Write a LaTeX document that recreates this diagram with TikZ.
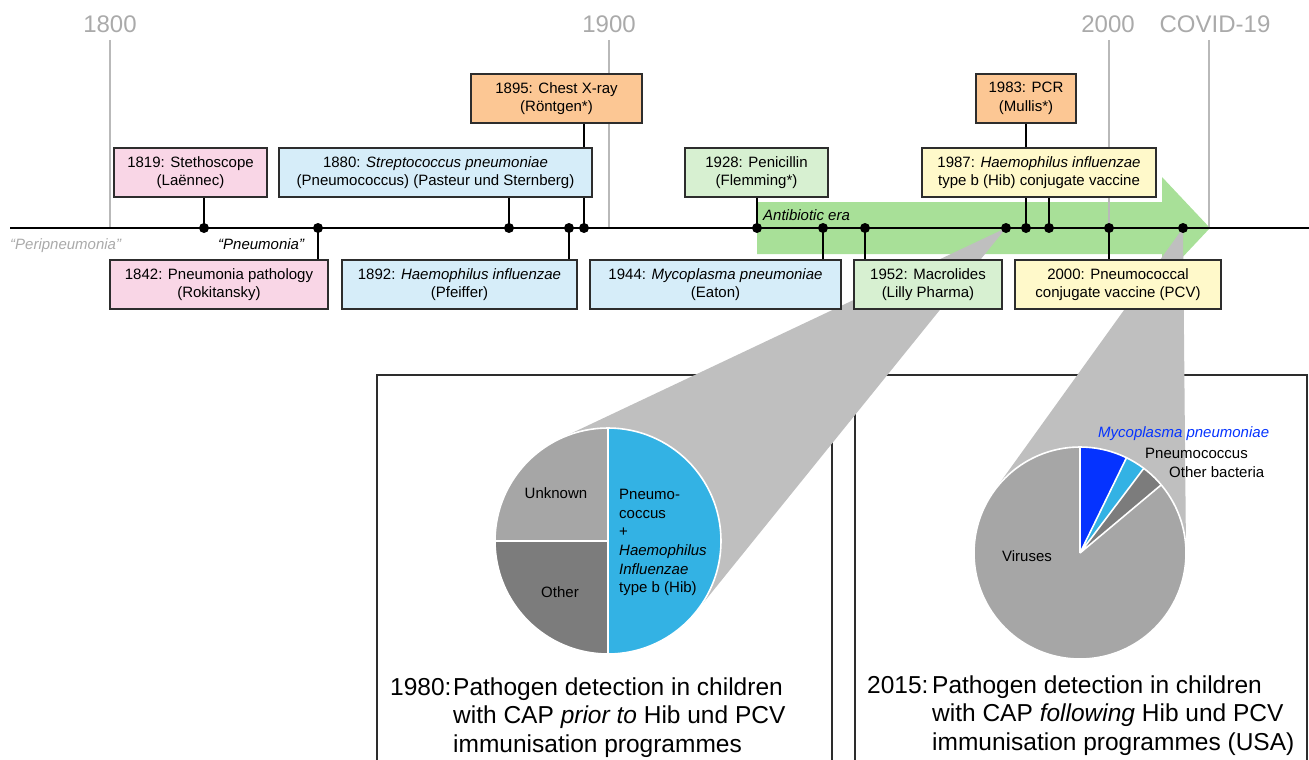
\documentclass[tikz,border=0pt]{standalone}
\usepackage{fontspec}
\setmainfont{Liberation Sans}
\usetikzlibrary{calc}
\pgfdeclarelayer{back}
\pgfdeclarelayer{mid}
\pgfsetlayers{back,mid,main}
\definecolor{bordercol}{RGB}{45,45,45}
\definecolor{pinkc}{RGB}{249,214,230}
\definecolor{bluec}{RGB}{214,237,249}
\definecolor{orangec}{RGB}{252,199,148}
\definecolor{greenc}{RGB}{215,240,209}
\definecolor{yellowc}{RGB}{255,249,202}
\definecolor{arrowgreen}{RGB}{168,224,152}
\definecolor{conegray}{RGB}{191,191,191}
\definecolor{unkc}{RGB}{166,166,166}
\definecolor{othc}{RGB}{124,124,124}
\definecolor{cyanc}{RGB}{51,178,228}
\definecolor{mycoc}{RGB}{5,51,255}
\definecolor{yeargray}{RGB}{170,170,170}
\definecolor{ylinec}{RGB}{185,185,185}
\begin{document}
\begin{tikzpicture}[x=1pt,y=-1pt,
  evbox/.style={draw=bordercol, line width=1.2pt, minimum height=49pt, inner sep=0pt,
    align=center, font=\fontsize{15}{18.5}\selectfont},
  pinkbox/.style={evbox, fill=pinkc},
  bluebox/.style={evbox, fill=bluec},
  orangebox/.style={evbox, fill=orangec},
  greenbox/.style={evbox, fill=greenc},
  yellowbox/.style={evbox, fill=yellowc},
  conn/.style={draw=black, line width=1.3pt},
  tdot/.style={circle, fill=black, inner sep=0pt, minimum size=10pt},
  yearlab/.style={text=yeargray, inner sep=0pt, anchor=base, font=\fontsize{24}{28}\selectfont},
  yline/.style={draw=ylinec, line width=1.2pt},
  smalltxt/.style={inner sep=0pt, font=\fontsize{15}{18.6}\selectfont},
  captext/.style={inner sep=0pt, anchor=base west, font=\fontsize{24.5}{28}\selectfont},
  framec/.style={draw=bordercol, line width=1.3pt},
  sepline/.style={draw=white, line width=1.6pt}
]
\useasboundingbox (0,0) rectangle (1309,760);

% ---------- timeline ----------
\coordinate (tlL) at (10,228);
\coordinate (tlR) at (1309,228);
\draw[line width=1.3pt, black] (tlL) -- (tlR);

% year labels and lines
\node[yearlab] (y1800) at (110,33) {1800};
\node[yearlab] (y1900) at (609,33) {1900};
\node[yearlab] (y2000) at (1108,33) {2000};
\node[yearlab] (ycov) at (1215,33) {COVID-19};
\coordinate (l1800) at (110,40);
\coordinate (l1900) at (609,40);
\coordinate (l2000) at (1109,40);
\coordinate (lcov) at (1209,40);

% dots
\node[tdot] (n1819) at (204,228) {};
\node[tdot] (n1842) at (318,228) {};
\node[tdot] (n1880) at (509,228) {};
\node[tdot] (n1892) at (569,228) {};
\node[tdot] (n1895) at (584,228) {};
\node[tdot] (n1928) at (757,228) {};
\node[tdot] (n1944) at (823,228) {};
\node[tdot] (n1952) at (865,228) {};
\node[tdot] (n1980) at (1006,228) {};
\node[tdot] (n1983) at (1026,228) {};
\node[tdot] (n1987) at (1049,228) {};
\node[tdot] (n2000) at (1109,228) {};
\node[tdot] (n2015) at (1183,228) {};

% boxes
\node[pinkbox, minimum width=153pt] (b1819) at (190.5,172.5) {1819: Stethoscope\\(Laënnec)};
\node[pinkbox, minimum width=218pt] (b1842) at (219,284.5) {1842: Pneumonia pathology\\(Rokitansky)};
\node[bluebox, minimum width=313pt] (b1880) at (435.5,172.5) {1880: \textit{Streptococcus pneumoniae}\\(Pneumococcus) (Pasteur und Sternberg)};
\node[bluebox, minimum width=235pt] (b1892) at (459.5,284.5) {1892: \textit{Haemophilus influenzae}\\(Pfeiffer)};
\node[orangebox, minimum width=171pt] (b1895) at (556.5,98.5) {1895: Chest X-ray\\(Röntgen*)};
\node[greenbox, minimum width=143pt] (b1928) at (756.5,172.5) {1928: Penicillin\\(Flemming*)};
\node[bluebox, minimum width=251pt] (b1944) at (715.5,284.5) {1944: \textit{Mycoplasma pneumoniae}\\(Eaton)};
\node[greenbox, minimum width=148pt] (b1952) at (928,284.5) {1952: Macrolides\\(Lilly Pharma)};
\node[orangebox, minimum width=100pt] (b1983) at (1026,98.5) {1983: PCR\\(Mullis*)};
\node[yellowbox, minimum width=234pt] (b1987) at (1039,172.5) {1987: \textit{Haemophilus influenzae}\\type b (Hib) conjugate vaccine};
\node[yellowbox, minimum width=206pt] (b2000) at (1118,284.5) {2000: Pneumococcal\\conjugate vaccine (PCV)};

% timeline texts
\node[smalltxt, anchor=base west, text=yeargray] (peri) at (10,249) {\textit{“Peripneumonia”}};
\node[smalltxt, anchor=base west] (pneu) at (218,249) {\textit{“Pneumonia”}};
\node[smalltxt, anchor=base west] (abera) at (763,220) {\textit{Antibiotic era}};

% pie labels
\node[smalltxt] (lunk) at (556,493) {Unknown};
\node[smalltxt] (loth) at (560,592) {Other};
\node[smalltxt, anchor=west, align=left] (lpn) at (619,542.5) {Pneumo-\\coccus\\+\\\textit{Haemophilus}\\\textit{Influenzae}\\type b (Hib)};
\node[smalltxt, anchor=base west, text=mycoc] (lmyco) at (1098,437.5) {\textit{Mycoplasma pneumoniae}};
\node[smalltxt, anchor=base west] (lpc) at (1145,458.5) {Pneumococcus};
\node[smalltxt, anchor=base west] (lob) at (1169,477.5) {Other bacteria};
\node[smalltxt, anchor=base] (lvir) at (1027,561.5) {Viruses};

% captions
\node[captext] (c1980) at (390,695) {1980:};
\node[captext] (c1980a) at (453,695) {Pathogen detection in children};
\node[captext] (c1980b) at (453,723.5) {with CAP \textit{prior to} Hib und PCV};
\node[captext] (c1980c) at (453,752) {immunisation programmes};
\node[captext] (c2015) at (867,693) {2015:};
\node[captext] (c2015a) at (932,693) {Pathogen detection in children};
\node[captext] (c2015b) at (932,721.5) {with CAP \textit{following} Hib und PCV};
\node[captext] (c2015c) at (932,750) {immunisation programmes (USA)};

% ---------- middle layer: year lines and connectors ----------
\begin{pgfonlayer}{mid}
  \draw[yline] (l1800) -- (l1800 |- tlL);
  \draw[yline] (l1900) -- (l1900 |- tlL);
  \draw[yline] (l2000) -- (l2000 |- tlL);
  \draw[yline] (lcov) -- (lcov |- tlL);
  \foreach \n in {1819,1842,1880,1892,1895,1928,1944,1952,1983,1987,2000}{
    \draw[conn] (n\n.center) -- (n\n.center |- b\n.center);
  }
\end{pgfonlayer}

% ---------- back layer: frames, arrow, cones, pies ----------
\begin{pgfonlayer}{back}
  \draw[framec] (377,765) -- (377,375) -- (832,375) -- (832,765);
  \draw[framec] (855,765) -- (855,375) -- (1307,375) -- (1307,765);
  \fill[arrowgreen] (757,202) -- (1162,202) -- (1162,177) -- (1210,228)
    -- (1162,279) -- (1162,254) -- (757,254) -- cycle;
  % cones
  \coordinate (t1a) at (695.9,612.0);
  \coordinate (t1b) at (559.7,438.8);
  \coordinate (t2a) at (1186,552);
  \coordinate (t2b) at (993.9,491.1);
  \fill[conegray] (n1980.center) -- (t1a) -- (t1b) -- cycle;
  \fill[conegray] (n2015.center) -- (t2a) -- (t2b) -- cycle;
  % pie 1980
  \begin{scope}[shift={(608,541)}]
  \begin{scope}[y=1pt]
    \fill[cyanc] (0,0) -- (-90:113) arc[start angle=-90, end angle=90, radius=113] -- cycle;
    \fill[unkc] (0,0) -- (90:113) arc[start angle=90, end angle=180, radius=113] -- cycle;
    \fill[othc] (0,0) -- (180:113) arc[start angle=180, end angle=270, radius=113] -- cycle;
    \draw[sepline] (0,113) -- (0,-113) (0,0) -- (-113,0);
    \draw[sepline] (0,0) circle[radius=113];
  \end{scope}
  \end{scope}
  % pie 2015
  \begin{scope}[shift={(1080,553)}]
  \begin{scope}[y=1pt]
    \fill[unkc] (0,0) -- (90:106) arc[start angle=90, end angle=400, radius=106] -- cycle;
    \fill[mycoc] (0,0) -- (64:106) arc[start angle=64, end angle=90, radius=106] -- cycle;
    \fill[cyanc] (0,0) -- (53:106) arc[start angle=53, end angle=64, radius=106] -- cycle;
    \fill[othc] (0,0) -- (40:106) arc[start angle=40, end angle=53, radius=106] -- cycle;
    \draw[sepline] (0,0) -- (90:106) (0,0) -- (64:106) (0,0) -- (53:106) (0,0) -- (40:106);
    \draw[sepline] (0,0) circle[radius=106];
  \end{scope}
  \end{scope}
\end{pgfonlayer}
\end{tikzpicture}
\end{document}
